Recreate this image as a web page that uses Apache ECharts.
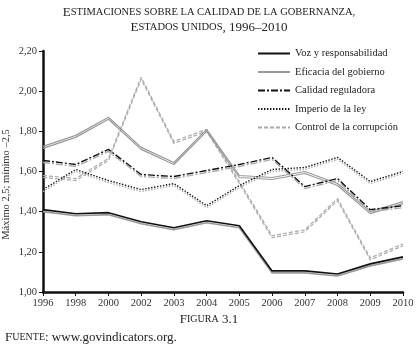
<!DOCTYPE html>
<html><head><meta charset="utf-8">
<script src="https://cdn.jsdelivr.net/npm/echarts@6/dist/echarts.min.js"></script>
<style>html,body{margin:0;padding:0;background:#fff}#c{width:418px;height:361px}</style>
</head><body><div id="c"></div>
<script>
const years = ['1996','1998','2000','2002','2003','2004','2005','2006','2007','2008','2009','2010'];
const yTicks = [1.0, 1.2, 1.4, 1.6, 1.8, 2.0, 2.2];
const voz       = [1.41, 1.39, 1.395, 1.35, 1.32, 1.355, 1.33, 1.105, 1.105, 1.09, 1.14, 1.175];
const eficacia  = [1.725, 1.78, 1.87, 1.72, 1.645, 1.81, 1.58, 1.57, 1.60, 1.54, 1.40, 1.45];
const calidad   = [1.655, 1.635, 1.71, 1.585, 1.575, 1.605, 1.635, 1.67, 1.525, 1.565, 1.41, 1.43];
const imperio   = [1.51, 1.61, 1.555, 1.51, 1.54, 1.43, 1.53, 1.61, 1.62, 1.67, 1.55, 1.60];
const control   = [1.58, 1.565, 1.665, 2.07, 1.75, 1.81, 1.55, 1.28, 1.31, 1.465, 1.17, 1.24];
const names = ['Voz y responsabilidad','Eficacia del gobierno','Calidad reguladora','Imperio de la ley','Control de la corrupción'];

const serif = '"Liberation Serif","DejaVu Serif",serif';
const chart = echarts.init(document.getElementById('c'), null, {renderer:'canvas'});
function mk(name, data, color, width, type, shadow, z){
  return {name, type:'line', data, symbol:'none', smooth:false, z,
    lineStyle:{color, width, type, shadowColor:shadow, shadowOffsetY:2, shadowOffsetX:0, shadowBlur:0},
    itemStyle:{color}};
}
const rich = {
  b:{fontFamily:serif,fontSize:13,color:'#222',fontWeight:'normal',lineHeight:15},
  s:{fontFamily:serif,fontSize:10.5,color:'#222',fontWeight:'normal',lineHeight:15},
  n:{fontFamily:serif,fontSize:13,color:'#222',fontWeight:'normal',lineHeight:15}
};
chart.setOption({
  animation:false,
  title:{
    text:'{b|E}{s|STIMACIONES SOBRE LA CALIDAD DE LA GOBERNANZA,}\n{b|E}{s|STADOS }{b|U}{s|NIDOS}{n|, 1996–2010}',
    left:204, textAlign:'center', top:0,
    textStyle:{fontWeight:'normal', rich}
  },
  legend:{
    orient:'vertical', left:252, top:43, itemWidth:32, itemHeight:10, itemGap:7.5,
    data:names,
    itemStyle:{opacity:0},
    textStyle:{fontFamily:serif,fontSize:10.5,color:'#222'}
  },
  grid:{left:43,right:15,top:51,bottom:69,containLabel:false,outerBoundsMode:'none'},
  xAxis:{type:'category', data:years, boundaryGap:false,
    axisLine:{lineStyle:{color:'#111',width:2.5}},
    axisTick:{show:true,alignWithLabel:true,length:4,lineStyle:{color:'#111',width:1}},
    axisLabel:{fontFamily:serif,fontSize:10.5,color:'#333',margin:6},
    splitLine:{show:false}
  },
  yAxis:{type:'value', min:yTicks[0], max:yTicks[yTicks.length-1], interval:0.2,
    name:'Máximo 2,5; mínimo –2,5', nameLocation:'middle', nameGap:31, nameRotate:90,
    nameMoveOverlap:false,
    nameTextStyle:{fontFamily:serif,fontSize:10.5,color:'#333',padding:[0,26,0,0]},
    axisLine:{show:true,lineStyle:{color:'#111',width:2.5}},
    axisTick:{show:true,length:4,lineStyle:{color:'#111',width:1}},
    axisLabel:{fontFamily:serif,fontSize:10.5,color:'#333',margin:6,
      formatter:v=>v.toFixed(2).replace('.',',')},
    splitLine:{show:false}
  },
  series:[
    mk(names[0], voz, '#111', 1.6, 'solid', '#999', 5),
    mk(names[1], eficacia, '#999', 1.2, 'solid', '#999', 3),
    mk(names[2], calidad, '#111', 1.4, [7,2,2,2], '#aaa', 4),
    mk(names[3], imperio, '#111', 1.4, [1.4,1.6], '#aaa', 4),
    mk(names[4], control, '#aaa', 1.2, [4,2], '#aaa', 2)
  ],
  graphic:[
    {type:'text', left:'center', top:313, style:{
      rich:{b:{fontFamily:serif,fontSize:13,fill:'#222'},s:{fontFamily:serif,fontSize:10,fill:'#222'},n:{fontFamily:serif,fontSize:13,fill:'#222'}},
      text:'{b|F}{s|IGURA}{n| 3.1}'}},
    {type:'text', left:5, top:331, style:{
      rich:{b:{fontFamily:serif,fontSize:13,fill:'#222'},s:{fontFamily:serif,fontSize:10,fill:'#222'},n:{fontFamily:serif,fontSize:13,fill:'#222'}},
      text:'{b|F}{s|UENTE}{n|: www.govindicators.org.}'}}
  ]
});
</script></body></html>
